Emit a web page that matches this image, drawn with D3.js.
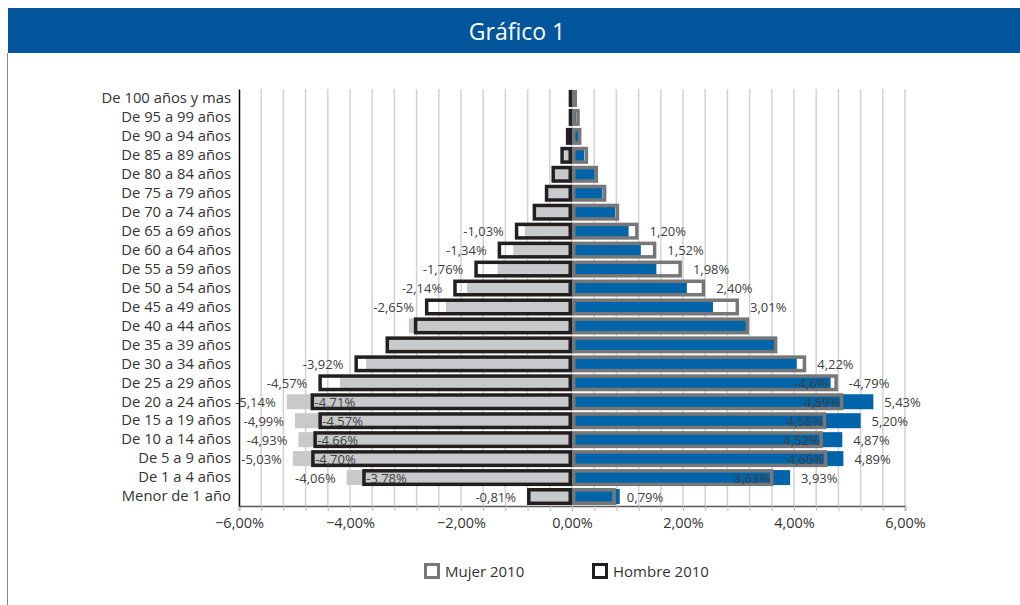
<!DOCTYPE html>
<html>
<head>
<meta charset="utf-8">
<script src="https://cdn.jsdelivr.net/npm/d3@7"></script>
<style>
  body { margin: 0; background: #fff; font-family: 'Open Sans', sans-serif; }
</style>
</head>
<body>
<script>
// categories top to bottom
const categorias = [
  'De 100 años y mas', 'De 95 a 99 años', 'De 90 a 94 años', 'De 85 a 89 años',
  'De 80 a 84 años', 'De 75 a 79 años', 'De 70 a 74 años', 'De 65 a 69 años',
  'De 60 a 64 años', 'De 55 a 59 años', 'De 50 a 54 años', 'De 45 a 49 años',
  'De 40 a 44 años', 'De 35 a 39 años', 'De 30 a 34 años', 'De 25 a 29 años',
  'De 20 a 24 años', 'De 15 a 19 años', 'De 10 a 14 años', 'De 5 a 9 años',
  'De 1 a 4 años', 'Menor de 1 año'
];

// Hombre 2010 (black outline)
const hombre2010 = [-0.06, -0.06, -0.11, -0.21, -0.37, -0.49, -0.71, -1.03, -1.34, -1.76, -2.14,
  -2.65, -2.85, -3.36, -3.92, -4.57, -4.71, -4.57, -4.66, -4.70, -3.78, -0.81];
// hombres, other year (light gray fill)
const hombreOtro = [-0.02, -0.03, -0.05, -0.14, -0.31, -0.43, -0.65, -0.85, -1.06, -1.34, -1.89,
  -2.27, -2.94, -3.31, -3.71, -4.18, -5.14, -4.99, -4.93, -5.03, -4.06, -0.76];
// Mujer 2010 (gray outline)
const mujer2010 = [0.09, 0.14, 0.17, 0.29, 0.47, 0.62, 0.85, 1.20, 1.52, 1.98, 2.40,
  3.01, 3.19, 3.70, 4.22, 4.79, 4.89, 4.58, 4.52, 4.60, 3.63, 0.79];
// mujeres, other year (blue fill)
const mujerOtro = [0.03, 0.07, 0.11, 0.22, 0.41, 0.55, 0.78, 1.02, 1.24, 1.52, 2.07,
  2.54, 3.15, 3.66, 4.05, 4.66, 5.43, 5.20, 4.87, 4.89, 3.93, 0.86];

// data labels as printed on the chart
const etqHombre2010 = [null, null, null, null, null, null, null, '-1,03%', '-1,34%', '-1,76%', '-2,14%',
  '-2,65%', null, null, '-3,92%', '-4,57%', '-4,71%', '-4,57%', '-4,66%', '-4,70%', '-3,78%', '-0,81%'];
const etqHombreOtro = [null, null, null, null, null, null, null, null, null, null, null,
  null, null, null, null, null, '-5,14%', '-4,99%', '-4,93%', '-5,03%', '-4,06%', null];
const etqMujer2010 = [null, null, null, null, null, null, null, '1,20%', '1,52%', '1,98%', '2,40%',
  '3,01%', null, null, '4,22%', '-4,79%', '4,89%', '4,58%', '4,52%', '4,60%', '3,63%', '0,79%'];
const etqMujerOtro = [null, null, null, null, null, null, null, null, null, null, null,
  null, null, null, null, '-4,6%', '5,43%', '5,20%', '4,87%', '4,89%', '3,93%', null];

const ticksX = [-6, -4, -2, 0, 2, 4, 6];
const leyenda = ['Mujer 2010', 'Hombre 2010'];

const W = 1020, H = 605;
const svg = d3.select('body').append('svg')
  .attr('width', W)
  .attr('height', H);

// header banner
svg.append('rect')
  .attr('x', 8).attr('y', 8)
  .attr('width', W - 8).attr('height', 45)
  .attr('fill', '#00559b');
svg.append('text')
  .attr('x', 517).attr('y', 31)
  .attr('text-anchor', 'middle')
  .attr('dominant-baseline', 'central')
  .attr('fill', '#fff')
  .style('font-size', '23px')
  .text('Gráfico 1');
svg.append('line')
  .attr('x1', 7.5).attr('x2', 7.5)
  .attr('y1', 53).attr('y2', H)
  .attr('stroke', '#8a8a8a');

const x = d3.scaleLinear().domain([-6, 6]).range([239, 905]);
const y = d3.scaleBand().domain(categorias).range([89, 506]);

const fmt = d => d3.format('.2f')(d).replace('.', ',') + '%';

// vertical gridlines
const minor = d3.range(0, 31).map(i => +(-6 + i * 0.4).toFixed(1));
svg.append('g')
  .selectAll('line')
  .data(minor.slice(1))
  .join('line')
    .attr('x1', d => x(d)).attr('x2', d => x(d))
    .attr('y1', 89).attr('y2', 506)
    .attr('stroke', '#d2d2d2')
    .attr('stroke-width', 1.5);

const rows = categorias.map((c, i) => ({
  cat: c,
  h10: hombre2010[i], hO: hombreOtro[i],
  m10: mujer2010[i], mO: mujerOtro[i],
  eh10: etqHombre2010[i], ehO: etqHombreOtro[i],
  em10: etqMujer2010[i], emO: etqMujerOtro[i]
}));

const fillH = 15;
const sw = 3.5;
const boxH = 17 - sw;
const cy = d => y(d.cat) + y.bandwidth() / 2;

// filled bars
svg.append('g').selectAll('rect')
  .data(rows)
  .join('rect')
    .attr('x', d => x(d.hO))
    .attr('y', d => cy(d) - fillH / 2)
    .attr('width', d => x(0) - x(d.hO))
    .attr('height', fillH)
    .attr('fill', '#c8c9cb');

svg.append('g').selectAll('rect')
  .data(rows)
  .join('rect')
    .attr('x', x(0))
    .attr('y', d => cy(d) - fillH / 2)
    .attr('width', d => x(d.mO) - x(0))
    .attr('height', fillH)
    .attr('fill', '#0064aa');

// outlined 2010 bars
svg.append('g').selectAll('rect')
  .data(rows)
  .join('rect')
    .attr('x', d => x(d.h10) + sw / 2)
    .attr('y', d => cy(d) - boxH / 2)
    .attr('width', d => Math.max(0.5, x(0) - x(d.h10) - sw))
    .attr('height', boxH)
    .attr('fill', 'none')
    .attr('stroke', '#231f20')
    .attr('stroke-width', sw);

svg.append('g').selectAll('rect')
  .data(rows)
  .join('rect')
    .attr('x', x(0) + sw / 2)
    .attr('y', d => cy(d) - boxH / 2)
    .attr('width', d => Math.max(0.5, x(d.m10) - x(0) - sw))
    .attr('height', boxH)
    .attr('fill', 'none')
    .attr('stroke', '#777777')
    .attr('stroke-width', sw);

// axes
const xAxis = d3.axisBottom(x)
  .tickValues(minor)
  .tickSize(5)
  .tickFormat(d => ticksX.includes(d) ? fmt(d) : '');

const gx = svg.append('g')
  .attr('transform', 'translate(0,506)')
  .call(xAxis);
gx.select('.domain').attr('stroke', '#595959').attr('stroke-width', 1.5);
gx.selectAll('.tick line').attr('stroke', '#bdbdbd');
gx.selectAll('.tick text')
  .attr('y', 12)
  .attr('fill', '#333')
  .style('font-family', "'Open Sans', sans-serif")
  .style('font-size', '14.5px');

const gy = svg.append('g')
  .attr('transform', 'translate(239,0)')
  .call(d3.axisLeft(y).tickSize(0).tickPadding(8));
gy.select('.domain').attr('stroke', '#000').attr('stroke-width', 1.5);
gy.selectAll('.tick text')
  .attr('fill', '#333')
  .style('font-family', "'Open Sans', sans-serif")
  .style('font-size', '14.8px');

// data labels: shorter bar of a labelled pair gets its label inside
const labels = [];
rows.forEach(d => {
  const sides = [
    [{ v: d.h10, t: d.eh10 }, { v: d.hO, t: d.ehO }],
    [{ v: d.m10, t: d.em10 }, { v: d.mO, t: d.emO }]
  ];
  sides.forEach(pair => {
    const withText = pair.filter(p => p.t);
    withText.sort((a, b) => Math.abs(a.v) - Math.abs(b.v));
    withText.forEach((p, k) => {
      const inside = withText.length === 2 && k === 0;
      labels.push({ cat: d.cat, v: p.v, t: p.t, inside });
    });
  });
});

svg.append('g').selectAll('text')
  .data(labels)
  .join('text')
    .attr('x', d => {
      const neg = d.v < 0;
      if (d.inside) return x(d.v) + (neg ? 4 : -3);
      return x(d.v) + (neg ? -11 : 11);
    })
    .attr('y', d => y(d.cat) + y.bandwidth() / 2)
    .attr('dominant-baseline', 'central')
    .attr('text-anchor', d => (d.v < 0) === d.inside ? 'start' : 'end')
    .attr('fill', '#404040')
    .style('font-size', '13px')
    .text(d => d.t);

// legend
const leg = svg.append('g').attr('transform', 'translate(424,571)');
const legColors = ['#777777', '#231f20'];
const legX = [0, 168];
leyenda.forEach((name, i) => {
  leg.append('rect')
    .attr('x', legX[i] + 1.5).attr('y', -6.5)
    .attr('width', 13).attr('height', 13)
    .attr('fill', '#fff')
    .attr('stroke', legColors[i])
    .attr('stroke-width', 3);
  leg.append('text')
    .attr('x', legX[i] + 21).attr('y', 0)
    .attr('dominant-baseline', 'central')
    .attr('fill', '#333')
    .style('font-size', '15px')
    .text(name);
});
</script>
</body>
</html>
